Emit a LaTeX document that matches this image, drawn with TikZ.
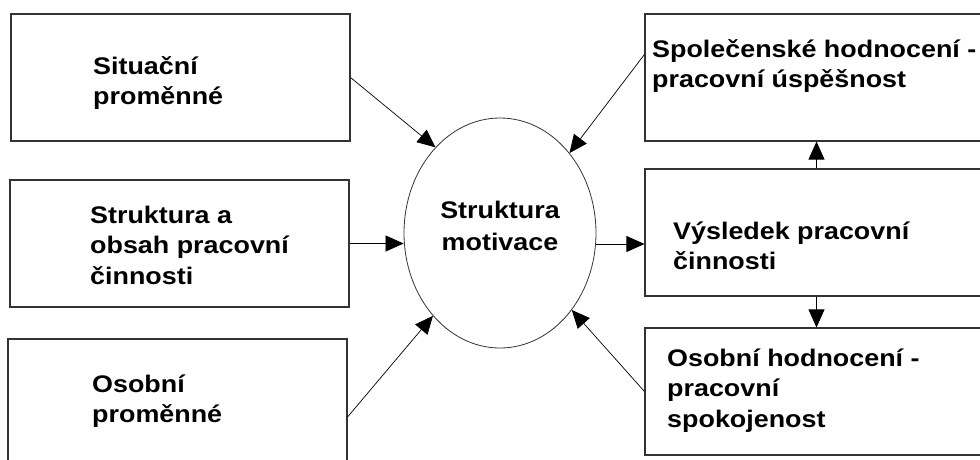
\documentclass[tikz,border=0pt]{standalone}
\usepackage{fontspec}
\setmainfont{Liberation Sans}[FakeStretch=1.12]
\usetikzlibrary{arrows.meta,shapes.geometric,calc}
\begin{document}
\begin{tikzpicture}[x=1pt,y=-1pt,
  box/.style={draw=black!80,line width=1.1pt,inner sep=0pt,minimum width=339pt,minimum height=127pt},
  rbox/.style={box,minimum width=343pt},
  txt/.style={align=left,inner sep=0pt,font=\fontsize{24}{30.5}\selectfont\bfseries},
  arr/.style={draw=black,line width=0.7pt,-{Triangle[length=18pt,width=16pt]}}]
\useasboundingbox (0,0) rectangle (980,459);
\fill[white] (0,0) rectangle (980,459);
% left boxes
\node[box] (b1) at (180.5,77.5) {};
\node[box] (b2) at (179.5,243.5) {};
\node[box,minimum height=156pt] (b3) at (177.5,417) {};
% right boxes
\node[rbox] (t) at (816.5,77.5) {};
\node[rbox] (m) at (816.5,232.5) {};
\node[rbox] (br) at (816.5,391.5) {};
% ellipse
\node[draw=black!80,line width=0.8pt,ellipse,minimum width=192pt,minimum height=230pt,inner sep=0pt,
      align=center,font=\fontsize{24}{32}\selectfont\bfseries] (e) at (500,233) {Struktura\\motivace\\[-18pt]};
% texts (anchored at the baseline of the last line)
\node[txt,anchor=base west] (l1) at (93,104.5) {Situační\\proměnné};
\node[txt,anchor=base west] (l2) at (90,284) {Struktura a\\obsah pracovní\\činnosti};
\node[txt,anchor=base west] (l3) at (92,422.5) {Osobní\\proměnné};
\node[txt,anchor=base west] (r1) at (652,87.5) {Společenské hodnocení -\\pracovní úspěšnost};
\node[txt,anchor=base west] (r2) at (673,269.5) {Výsledek pracovní\\činnosti};
\node[txt,anchor=base west] (r3) at (667,427) {Osobní hodnocení -\\pracovní\\spokojenost};
% connectors
\draw[arr] (b1.east) -- (e.127);
\draw[arr] (b2.east) -- (b2.east -| e.west);
\draw[arr] (b3.east) -- (e.231);
\draw[arr] ($(t.north west)!0.32!(t.south west)$) -- (e.49);
\draw[arr] (br.west) -- (e.313);
\coordinate (eo) at ($(e.east)+(0,11)$);
\draw[arr] (eo) -- (eo -| m.west);
\draw[arr] (m.north) -- (t.south);
\draw[arr] (m.south) -- (br.north);
\end{tikzpicture}
\end{document}
